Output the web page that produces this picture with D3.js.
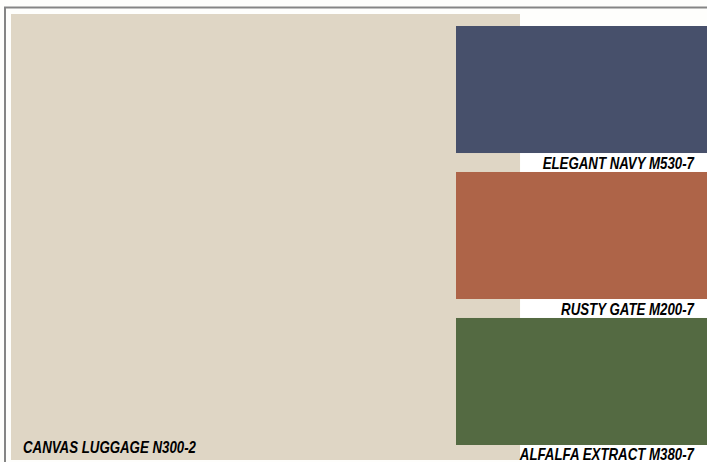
<!DOCTYPE html>
<head>
<style type="text/css">
	body { margin: 0; background: #fefefc; }
	text {
		font-family: "Liberation Sans", Arial, sans-serif;
		font-weight: bold;
		font-style: italic;
		font-size: 16px;
		fill: #000;
	}
</style>
</head>
<script src="https://d3js.org/d3.v7.min.js"></script>
<body>
	<svg width="707" height="462"></svg>
	<script>
	// main swatch + the three accent swatches
	var baseName = "CANVAS LUGGAGE N300-2",
		baseColor = "#dfd6c5";

	var names = ["ELEGANT NAVY M530-7", "RUSTY GATE M200-7", "ALFALFA EXTRACT M380-7"];
	var colors = ["#47506b", "#ae6448", "#546a42"];

	var svg = d3.select("svg"),
		width = +svg.attr("width"),
		height = +svg.attr("height");

	var squish = 0.83; // condensed lettering

	// frame
	svg.append("path")
		.attr("d", "M5," + height + "V7.5H" + width)
		.attr("fill", "none")
		.attr("stroke", "#858585")
		.attr("stroke-width", 2);

	var x = d3.scaleLinear().domain([0, 1]).range([11, 520]);

	svg.append("rect")
		.attr("x", x(0))
		.attr("y", 14)
		.attr("width", x(1) - x(0))
		.attr("height", height - 16)
		.attr("fill", baseColor);

	svg.append("g")
		.attr("transform", "translate(23,453) scale(" + squish + ",1)")
		.append("text")
		.text(baseName);

	var y = d3.scaleBand()
		.domain(names)
		.range([26, 445])
		.paddingInner(0.13)
		.paddingOuter(0);

	var sw = svg.append("g").selectAll("g")
		.data(names)
		.enter().append("g");

	// white strip under each swatch for its label
	sw.append("rect")
		.attr("x", x(1) + 1)
		.attr("y", function(d) { return y(d) + y.bandwidth(); })
		.attr("width", width - x(1))
		.attr("height", y.step() - y.bandwidth())
		.attr("fill", "#fff");

	sw.append("rect")
		.attr("x", 456)
		.attr("y", function(d) { return y(d); })
		.attr("width", width - 456)
		.attr("height", y.bandwidth())
		.attr("fill", function(d, i) { return colors[i]; });

	sw.append("g")
		.attr("transform", function(d) {
			return "translate(694," + Math.min(y(d) + y.bandwidth() + 16, height - 2) + ") scale(" + squish + ",1)";
		})
		.append("text")
		.attr("text-anchor", "end")
		.text(function(d) { return d; });
	</script>
</body>
